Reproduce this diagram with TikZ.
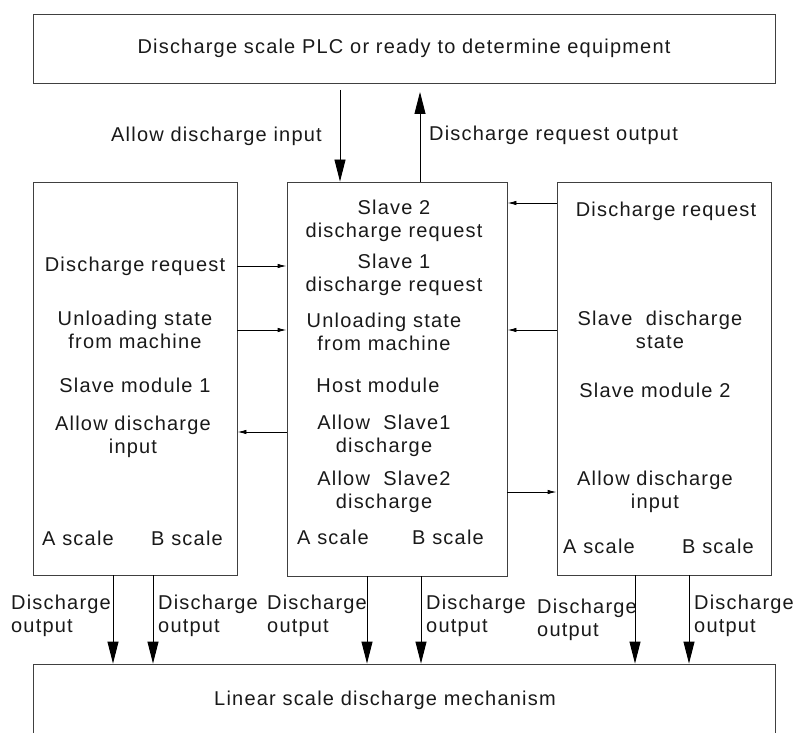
\documentclass[tikz,border=0pt]{standalone}
\usepackage{fontspec}
\setmainfont{Liberation Sans}[LetterSpace=6]
\usetikzlibrary{arrows.meta}

\tikzset{
  box/.style={draw=black!75, line width=0.9pt, inner sep=0pt},
  txt/.style={align=center, inner sep=0pt, text=black!90, font=\fontsize{20}{23}\selectfont},
  lbl/.style={align=left, inner sep=0pt, text=black!90, font=\fontsize{20}{23}\selectfont},
  bigarrow/.style={line width=0.9pt, -{Triangle[length=22pt,width=11pt]}},
  smallarrow/.style={line width=0.9pt, -{Latex[length=9pt,width=4.5pt]}},
}

\begin{document}
\begin{tikzpicture}[x=1pt,y=-1pt]
\useasboundingbox (0,0) rectangle (796,733);

% Kaesten
\node[box, txt, minimum width=742pt, minimum height=69pt] (plc) at (404,48.5)
  {Discharge scale PLC or ready to determine equipment};
\node[box, minimum width=204pt, minimum height=393pt] (left) at (135,378.5) {};
\node[box, minimum width=220pt, minimum height=394pt] (mid) at (397,379) {};
\node[box, minimum width=214pt, minimum height=393pt] (right) at (664,378.5) {};
\node[box, minimum width=742pt, minimum height=96pt] (bot) at (404,712) {};
\node[txt] (mech) at (385,700) {Linear scale discharge mechanism};

% Slave module 1
\node[txt] (lreq) at (135,266) {Discharge request};
\node[txt] (lunl) at (135,330) {Unloading state\\from machine};
\node[txt] (lmod) at (135,385) {Slave module 1};
\node[txt] (lallow) at (133,437) {Allow discharge\\input};
\node[txt] (lA) at (78,538) {A scale};
\node[txt] (lB) at (187,538) {B scale};

% Host module
\node[txt] (m2req) at (394,221) {Slave 2\\discharge request};
\node[txt] (m1req) at (394,275) {Slave 1\\discharge request};
\node[txt] (munl) at (384,332) {Unloading state\\from machine};
\node[txt] (mhost) at (378,385) {Host module};
\node[txt] (mall1) at (384,436) {Allow\ \ Slave1\\discharge};
\node[txt] (mall2) at (384,492) {Allow\ \ Slave2\\discharge};
\node[txt] (mA) at (333,537) {A scale};
\node[txt] (mB) at (448,537) {B scale};

% Slave module 2
\node[txt] (rreq) at (666,211) {Discharge request};
\node[txt] (rstate) at (660,330) {Slave\ \ discharge\\state};
\node[txt] (rmod) at (655,390) {Slave module 2};
\node[txt] (rallow) at (655,492) {Allow discharge\\input};
\node[txt] (rA) at (599,546) {A scale};
\node[txt] (rB) at (718,546) {B scale};

% Verbindungen zwischen den Modulen
\draw[smallarrow] (lreq -| left.east) -- (lreq -| mid.west);
\draw[smallarrow] (lunl -| left.east) -- (lunl -| mid.west);
\draw[smallarrow] ([yshift=5pt]lallow -| mid.west) -- ([yshift=5pt]lallow -| left.east);
\draw[smallarrow] ([yshift=8pt]rreq -| right.west) -- ([yshift=8pt]rreq -| mid.east);
\draw[smallarrow] (rstate -| right.west) -- (rstate -| mid.east);
\draw[smallarrow] (rallow -| mid.east) -- (rallow -| right.west);

% oben
\coordinate (ain) at (340,90);
\coordinate (rout) at (420,92);
\draw[bigarrow] (ain) -- (ain |- mid.north);
\draw[bigarrow] (rout |- mid.north) -- (rout);
\node[lbl, anchor=east] (ainl) at (322,136) {Allow discharge input};
\node[lbl, anchor=west] (routl) at (429,135) {Discharge request output};

% unten
\coordinate (l1) at (113,575);
\coordinate (l2) at (153,575);
\coordinate (m1) at (367,576);
\coordinate (m2) at (421,576);
\coordinate (r1) at (635,575);
\coordinate (r2) at (689,575);
\foreach \c in {l1,l2,m1,m2,r1,r2}
  \draw[bigarrow] (\c) -- (\c |- bot.north);

\node[lbl, anchor=west] (lo1) at (11,616) {Discharge\\output};
\node[lbl, anchor=west] (lo2) at (158,616) {Discharge\\output};
\node[lbl, anchor=west] (mo1) at (267,616) {Discharge\\output};
\node[lbl, anchor=west] (mo2) at (426,616) {Discharge\\output};
\node[lbl, anchor=west] (ro1) at (537,620) {Discharge\\output};
\node[lbl, anchor=west] (ro2) at (694,616) {Discharge\\output};
\end{tikzpicture}
\end{document}
